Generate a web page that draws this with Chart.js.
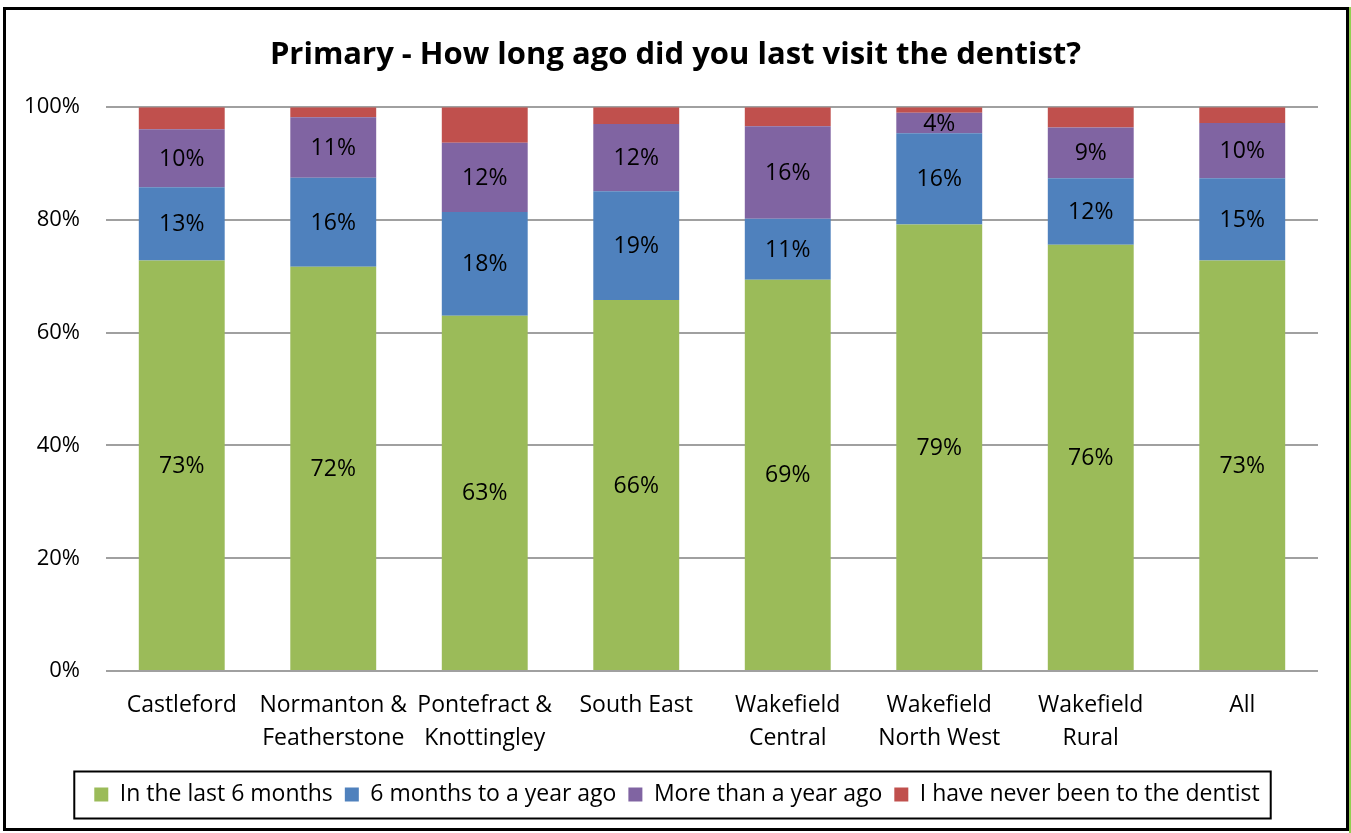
<!DOCTYPE html>
<html>
<head>
<meta charset="utf-8">
<script src="https://cdn.jsdelivr.net/npm/chart.js@4/dist/chart.umd.min.js"></script>
<style>
  html, body { margin: 0; padding: 0; background: #fff; }
  canvas { display: block; }
</style>
</head>
<body>
<canvas id="dentistChart" width="1351" height="833"></canvas>
<script>
const categories = [
  'Castleford',
  ['Normanton &', 'Featherstone'],
  ['Pontefract &', 'Knottingley'],
  'South East',
  ['Wakefield', 'Central'],
  ['Wakefield', 'North West'],
  ['Wakefield', 'Rural'],
  'All'
];
const seriesNames = ['In the last 6 months', '6 months to a year ago', 'More than a year ago', 'I have never been to the dentist'];
const last6Months = [72.8, 71.7, 63.0, 65.8, 69.4, 79.2, 75.6, 72.8];
const sixToTwelve = [13.0, 15.8, 18.4, 19.3, 10.8, 16.2, 11.8, 14.6];
const overAYear = [10.3, 10.7, 12.3, 11.9, 16.4, 3.6, 9.0, 9.8];
const neverBeen = [3.9, 1.8, 6.3, 3.0, 3.4, 1.0, 3.6, 2.8];
const yTicks = [0, 20, 40, 60, 80, 100];

const FONT = '"Open Sans", sans-serif';

// draws the % inside each segment (not for the red series)
const segmentLabels = {
  id: 'segmentLabels',
  afterDatasetsDraw(chart) {
    const ctx = chart.ctx;
    ctx.save();
    ctx.font = '23px ' + FONT;
    ctx.fillStyle = '#000';
    ctx.textAlign = 'center';
    ctx.textBaseline = 'middle';
    chart.data.datasets.forEach((ds, i) => {
      if (i > 2) return;
      chart.getDatasetMeta(i).data.forEach((bar, j) => {
        const y = (bar.y + bar.base) / 2;
        ctx.fillText(Math.round(ds.data[j]) + '%', bar.x, y + 1);
      });
    });
    ctx.restore();
  }
};

// center title and legend on the whole page, not the plot
const recenter = {
  id: 'recenter',
  afterLayout(chart) {
    const t = chart.titleBlock;
    t.left = 0; t.right = chart.width; t.width = chart.width;
    const lg = chart.legend;
    lg.left += 18; lg.right += 18;
  }
};

// legend box + outer frame
const frame = {
  id: 'frame',
  afterDraw(chart) {
    const ctx = chart.ctx;
    const boxes = chart.legend.legendHitBoxes;
    if (boxes && boxes.length) {
      const first = boxes[0], last = boxes[boxes.length - 1];
      const x0 = first.left - 20, x1 = last.left + last.width + 11;
      const yc = first.top + first.height / 2;
      ctx.save();
      ctx.strokeStyle = '#000';
      ctx.lineWidth = 2;
      ctx.strokeRect(x0, yc - 23, x1 - x0, 47);
      ctx.restore();
    }
    ctx.save();
    ctx.strokeStyle = '#000';
    ctx.lineWidth = 3;
    ctx.strokeRect(4.5, 8.5, 1343, 821);
    ctx.fillStyle = '#92d050';
    ctx.fillRect(1349, 7, 2, 826);
    ctx.restore();
  }
};

new Chart(document.getElementById('dentistChart'), {
  type: 'bar',
  data: {
    labels: categories,
    datasets: [
      { label: seriesNames[0], data: last6Months, backgroundColor: '#9bbb59' },
      { label: seriesNames[1], data: sixToTwelve, backgroundColor: '#4f81bd' },
      { label: seriesNames[2], data: overAYear, backgroundColor: '#8064a2' },
      { label: seriesNames[3], data: neverBeen, backgroundColor: '#c0504d' }
    ]
  },
  options: {
    responsive: false,
    animation: false,
    datasets: { bar: { barPercentage: 0.567, categoryPercentage: 1 } },
    layout: { padding: { left: 0, right: 33, top: 0, bottom: 17 } },
    plugins: {
      title: {
        display: true,
        text: 'Primary - How long ago did you last visit the dentist?',
        color: '#000',
        font: { family: FONT, size: 31, weight: 'bold', lineHeight: 1.2 },
        padding: { top: 37, bottom: 33 }
      },
      legend: {
        position: 'bottom',
        labels: {
          color: '#000',
          font: { family: FONT, size: 23 },
          boxWidth: 14,
          boxHeight: 14,
          padding: 12
        }
      },
      tooltip: { enabled: false }
    },
    scales: {
      x: {
        stacked: true,
        grid: { display: false, drawTicks: false },
        border: { display: false },
        ticks: {
          color: '#000',
          font: { family: FONT, size: 23, lineHeight: 1.43 },
          padding: 18,
          maxRotation: 0,
          autoSkip: false
        },
        afterFit(scale) { scale.height = 100; }
      },
      y: {
        stacked: true,
        min: 0,
        max: 100,
        afterBuildTicks(scale) { scale.ticks = yTicks.map(v => ({ value: v })); },
        grid: { color: '#a0a0a0', lineWidth: 2, drawTicks: false },
        border: { display: false },
        ticks: {
          color: '#000',
          font: { family: FONT, size: 22 },
          padding: 26,
          callback: v => v + '%'
        },
        afterFit(scale) { scale.width = 106; }
      }
    }
  },
  plugins: [segmentLabels, recenter, frame]
});
</script>
</body>
</html>
